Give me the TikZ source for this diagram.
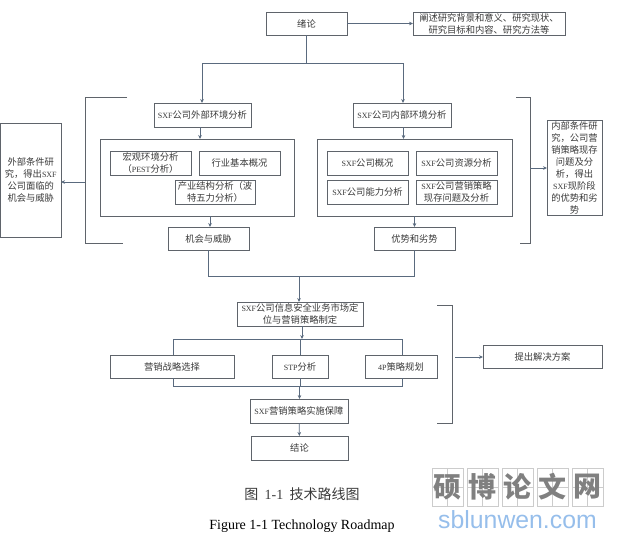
\documentclass[tikz,border=0pt]{standalone}
\usepackage{fontspec}
\usetikzlibrary{arrows.meta,calc}
\setmainfont{Liberation Serif}
\newfontfamily\cjk{Noto Sans CJK SC}
\newfontfamily\lat{Liberation Serif}
\newfontfamily\wmlat{Liberation Sans}
\newcommand{\La}[1]{{\fontsize{8}{12}\lat #1}}
\definecolor{boxline}{HTML}{5F646B}
\definecolor{arrowline}{HTML}{5A6A7E}
\definecolor{txt}{HTML}{3A3A3A}
\tikzset{
  box/.style={draw=boxline,line width=0.8pt,fill=white,inner sep=0pt,outer sep=0pt,align=center,
    font=\fontsize{9.3}{12}\cjk,text=txt},
  link/.style={draw=arrowline,line width=0.8pt},
  arrowlink/.style={link,-{Stealth[length=4pt,width=3.6pt]}},
  brack/.style={draw=boxline,line width=0.8pt},
  wmcell/.style={draw=black!20,line width=0.6pt,inner sep=0pt,outer sep=0pt,minimum width=31pt,minimum height=38pt,
    font=\fontsize{28}{30}\cjk\bfseries,text=black!50,
    path picture={\draw[black!20,line width=0.5pt] (path picture bounding box.north) -- (path picture bounding box.south);
      \draw[black!20,line width=0.5pt] (path picture bounding box.west) -- (path picture bounding box.east);}},
}
\newcommand{\bx}[6]{%
  \pgfmathsetmacro\cxa{(#2+#4)/2}\pgfmathsetmacro\cya{(#3+#5)/2}%
  \pgfmathsetmacro\wa{#4-#2}\pgfmathsetmacro\ha{#5-#3}%
  \node[box,minimum width=\wa pt,minimum height=\ha pt] (#1) at (\cxa,\cya) {#6};}
\begin{document}
\begin{tikzpicture}[x=1pt,y=-1pt]
\useasboundingbox (0,0) rectangle (621,539);
% frames first
\bx{extframe}{100}{139}{294}{216}{}
\bx{intframe}{317}{139}{512}{216}{}
% top
\bx{intro}{266}{12}{347}{35}{绪论}
\bx{introtext}{413}{12}{565}{35}{阐述研究背景和意义、研究现状、\\研究目标和内容、研究方法等}
% external
\bx{ext}{154}{103}{251}{127}{\La{SXF}公司外部环境分析}
\bx{macro}{110}{151}{191}{175}{宏观环境分析\\（\La{PEST}分析）}
\bx{industry}{199}{151}{280}{175}{行业基本概况}
\bx{porter}{175}{180}{255}{204}{产业结构分析（波\\特五力分析）}
\bx{opp}{168}{227}{249}{250}{机会与威胁}
\bx{extnote}{0.5}{123}{61}{237}{外部条件研\\究，得出\La{SXF}\\公司面临的\\机会与威胁}
% internal
\bx{int}{353}{103}{451}{127}{\La{SXF}公司内部环境分析}
\bx{profile}{327}{151}{408}{175}{\La{SXF}公司概况}
\bx{resource}{416}{151}{497}{175}{\La{SXF}公司资源分析}
\bx{ability}{327}{180}{408}{204}{\La{SXF}公司能力分析}
\bx{problem}{416}{180}{497}{204}{\La{SXF}公司营销策略\\现存问题及分析}
\bx{strength}{374}{227}{455}{250}{优势和劣势}
\bx{intnote}{547}{120}{602}{215}{内部条件研\\究，公司营\\销策略现存\\问题及分\\析，得出\\\La{SXF}现阶段\\的优势和劣\\势}
% strategy
\bx{position}{237}{302}{363}{326}{\La{SXF}公司信息安全业务市场定\\位与营销策略制定}
\bx{choice}{110}{355}{234}{378}{营销战略选择}
\bx{stp}{272}{355}{328}{378}{\La{STP}分析}
\bx{fourp}{365}{355}{437}{378}{\La{4P}策略规划}
\bx{impl}{250}{399}{348}{423}{\La{SXF}营销策略实施保障}
\bx{concl}{251}{436}{348}{460}{结论}
\bx{solution}{483}{345}{602}{368}{提出解决方案}
% connectors: top
\coordinate (j1) at (306.5,63);
\coordinate (j1l) at (202,63);
\coordinate (j1r) at (403,63);
\draw[arrowlink] (intro) -- (introtext);
\draw[link] (intro.south) -- (j1);
\draw[arrowlink] (j1) -- (j1l) -- (ext.north -| j1l);
\draw[arrowlink] (j1) -- (j1r) -- (int.north -| j1r);
\draw[arrowlink] ([xshift=-2.5pt]ext.south) -- ([xshift=-2.5pt]ext.south |- extframe.north);
\draw[arrowlink] ([xshift=1.5pt]int.south) -- ([xshift=1.5pt]int.south |- intframe.north);
\draw[arrowlink] ([xshift=1.5pt]opp.north |- extframe.south) -- ([xshift=1.5pt]opp.north);
\draw[arrowlink] (strength.north |- intframe.south) -- (strength.north);
% brackets
\coordinate (bl1) at (127,97); \coordinate (bl2) at (85,97);
\coordinate (bl3) at (85,243); \coordinate (bl4) at (123,243); \coordinate (bla) at (85,182);
\draw[brack] (bl1) -- (bl2) -- (bl3) -- (bl4);
\draw[arrowlink] (bla) -- (extnote.east |- bla);
\coordinate (br1) at (516,97); \coordinate (br2) at (530,97);
\coordinate (br3) at (530,243); \coordinate (br4) at (520,243); \coordinate (bra) at (530,168);
\draw[brack] (br1) -- (br2) -- (br3) -- (br4);
\draw[arrowlink] (bra) -- (intnote.west |- bra);
\coordinate (bs1) at (437,305); \coordinate (bs2) at (452,305);
\coordinate (bs3) at (452,423); \coordinate (bs4) at (437,423); \coordinate (bsa) at (455,357);
\draw[brack] (bs1) -- (bs2) -- (bs3) -- (bs4);
\draw[arrowlink] (bsa) -- (solution.west |- bsa);
% merge to strategy
\coordinate (m) at (299,276);
\draw[link] (opp.south) -- (opp.south |- m) -- (strength.south |- m) -- (strength.south);
\draw[arrowlink] (m) -- (m |- position.north);
% branch strategy
\coordinate (tl) at (173,339); \coordinate (tr) at (402,339);
\coordinate (bl) at (173,386); \coordinate (brr) at (402,386);
\coordinate (jb) at (299.5,386);
\draw[link] (choice.north -| tl) -- (tl) -- (tr) -- (fourp.north -| tr);
\draw[link] (choice.south -| bl) -- (bl) -- (brr) -- (fourp.south -| brr);
\draw[link] (stp.north) -- (stp.north |- tl);
\draw[link] (stp.south) -- (stp.south |- bl);
\draw[arrowlink] ([xshift=2pt]position.south) -- ([xshift=2pt]position.south |- tl);
\draw[arrowlink] (jb) -- (jb |- impl.north);
\draw[arrowlink] (impl) -- (concl);
% captions
\node[inner sep=0pt,font=\fontsize{14}{16}\cjk,text=txt] (cap1) at (302,494) {图\ \ {\lat 1-1}\ \ 技术路线图};
\node[inner sep=0pt,font=\fontsize{14}{16}\selectfont,text=black] (cap2) at (302,526.5) {Figure 1-1 Technology Roadmap};
% watermark
\node[wmcell] (w1) at (447.5,487) {硕};
\node[wmcell] (w2) at (482.5,487) {博};
\node[wmcell] (w3) at (517.5,487) {论};
\node[wmcell] (w4) at (552.5,487) {文};
\node[wmcell] (w5) at (587.5,487) {网};
\node[inner sep=0pt,font=\fontsize{24.8}{26}\wmlat,text={rgb,255:red,150;green,190;blue,235}] (wm) at (517.5,520) {sblunwen.com};
\end{tikzpicture}
\end{document}
